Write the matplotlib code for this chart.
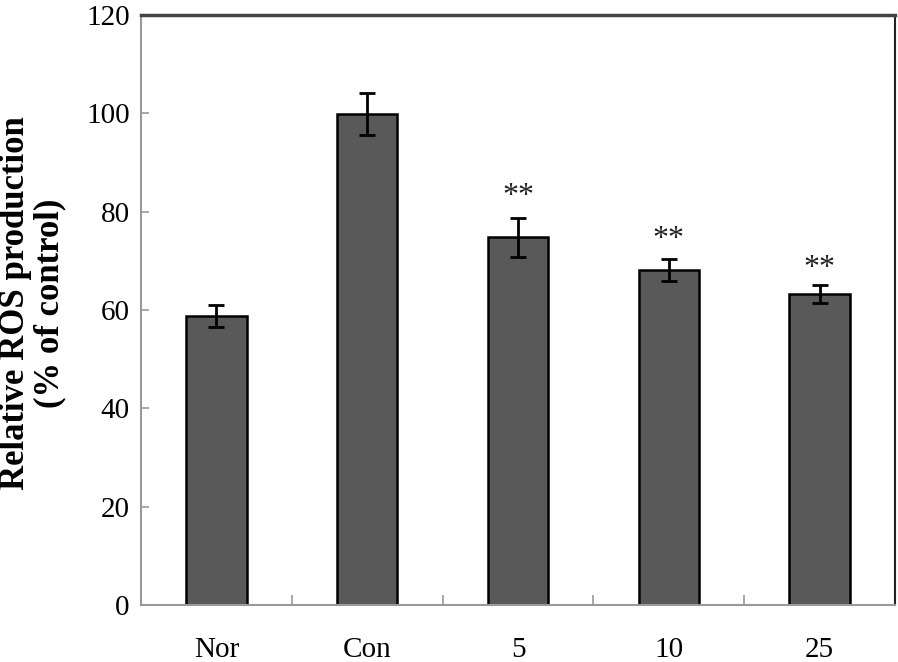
import matplotlib
matplotlib.use("Agg")
import matplotlib.pyplot as plt
import numpy as np

categories = ["Nor", "Con", "5", "10", "25"]
values = [58.8, 99.9, 74.8, 68.1, 63.2]
errors = [2.3, 4.3, 4.0, 2.2, 1.8]
stars = ["", "", "**", "**", "**"]
star_y = [0, 0, 84.8, 76.1, 70.2]
yticks = [0, 20, 40, 60, 80, 100, 120]

plt.rcParams['font.family'] = ['Liberation Serif', 'DejaVu Serif']

fig = plt.figure(figsize=(8.98, 6.62), dpi=100)
ax = fig.add_axes([0.157, 0.0861, 0.8397, 0.8912])

x = np.arange(len(categories))
ax.bar(x, values, width=0.4, color="#595959", edgecolor="black", linewidth=1.8, zorder=2)
ax.errorbar(x, values, yerr=errors, fmt="none", ecolor="black", elinewidth=2,
            capsize=5.5, capthick=2, zorder=3)
for xi, s, sy in zip(x, stars, star_y):
    if s:
        ax.annotate(s, xy=(xi, sy), xytext=(0, -6), textcoords="offset points",
                    ha="center", va="center", fontsize=23, color="#222222")

ax.set_xlim(-0.5, len(categories) - 0.5)
ax.set_ylim(0, 120)
ax.set_yticks(yticks)
ax.set_yticklabels([str(t) for t in yticks], fontsize=21)
ax.set_xticks(x)
ax.set_xticklabels(categories, fontsize=21)
ax.tick_params(axis="x", which="major", length=0, pad=23)
ax.set_xticks(np.arange(0.5, len(categories) - 0.5, 1.0), minor=True)
ax.tick_params(axis="x", which="minor", direction="in", length=7, color="#999999", width=1.2)
ax.tick_params(axis="y", direction="in", length=6, color="#999999", width=1.2, pad=8)

ax.spines["left"].set_color("#999999")
ax.spines["bottom"].set_color("#999999")
ax.spines["left"].set_linewidth(1.5)
ax.spines["bottom"].set_linewidth(1.5)
ax.spines["top"].set_color("#444444")
ax.spines["top"].set_linewidth(2.5)
ax.spines["right"].set_color("#222222")
ax.spines["right"].set_linewidth(1.5)

ax.set_ylabel("Relative ROS production\n(% of control)", fontsize=25, fontweight="bold",
              linespacing=1.05, va="center", ha="center")
ax.yaxis.set_label_coords((33 - 141) / 754, 0.5 + 7 / 590)

fig.savefig("out.png", dpi=100)
